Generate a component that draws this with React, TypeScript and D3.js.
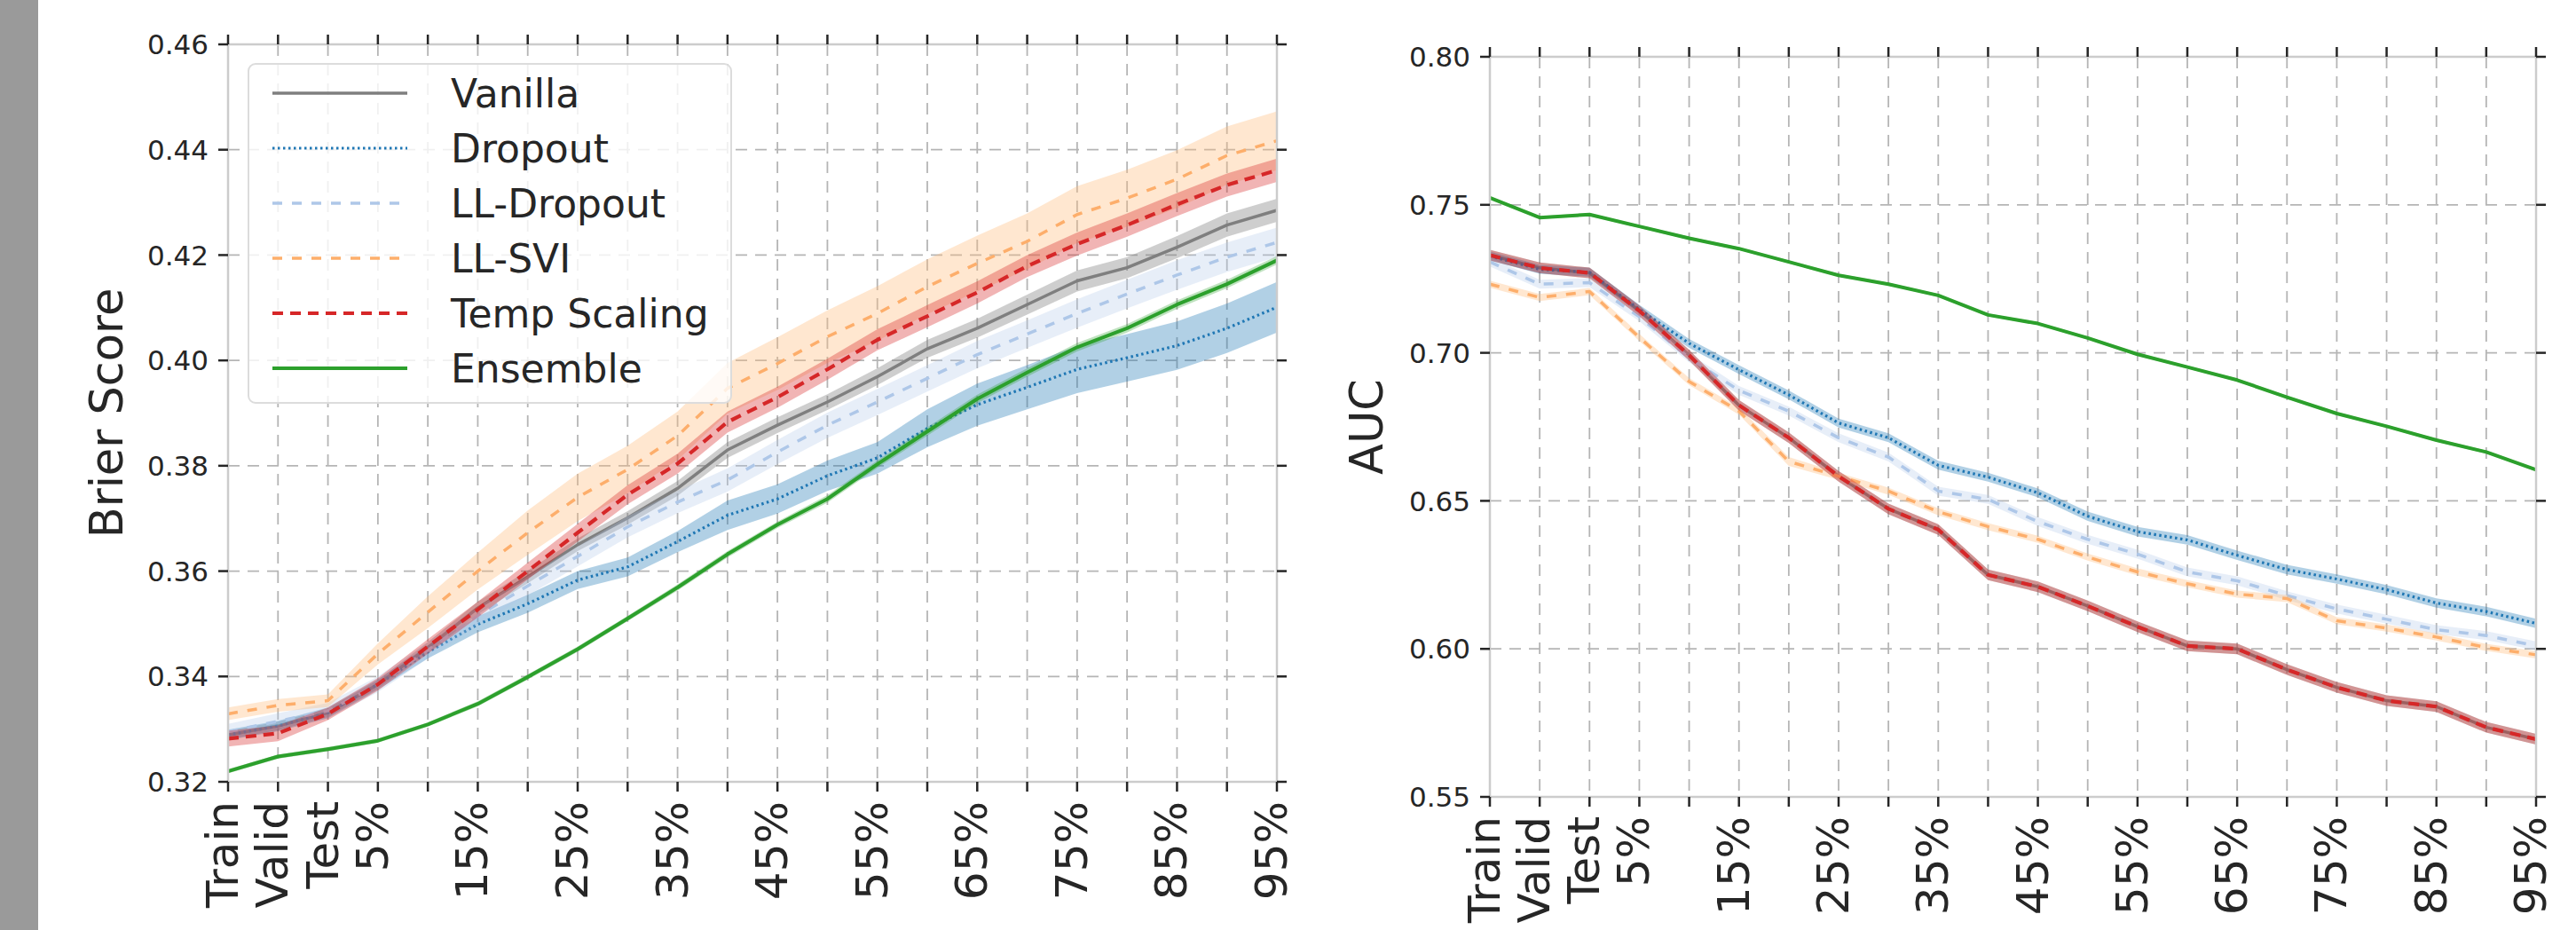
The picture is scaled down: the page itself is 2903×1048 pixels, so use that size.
import React from 'react';
import * as d3 from 'd3';

// x categories (shared by both panels)
const categories = ['Train', 'Valid', 'Test', '5%', '10%', '15%', '20%', '25%', '30%', '35%', '40%',
  '45%', '50%', '55%', '60%', '65%', '70%', '75%', '80%', '85%', '90%', '95%'];
const xTickLabels = ['Train', 'Valid', 'Test', '5%', '', '15%', '', '25%', '', '35%', '',
  '45%', '', '55%', '', '65%', '', '75%', '', '85%', '', '95%'];

const brierTicks = [0.32, 0.34, 0.36, 0.38, 0.40, 0.42, 0.44, 0.46];
const aucTicks = [0.55, 0.60, 0.65, 0.70, 0.75, 0.80];

// Brier score, means
const brierVanilla = [0.3289, 0.3306, 0.3331, 0.3385, 0.3455, 0.3530, 0.3589, 0.3650, 0.3701, 0.3757, 0.3830,
  0.3877, 0.3921, 0.3969, 0.4022, 0.4061, 0.4106, 0.4151, 0.4176, 0.4215, 0.4257, 0.4285];
const brierDropout = [0.3289, 0.3306, 0.3331, 0.3385, 0.3446, 0.3499, 0.3538, 0.3583, 0.3608, 0.3656, 0.3706,
  0.3737, 0.3781, 0.3815, 0.3871, 0.3916, 0.3949, 0.3983, 0.4005, 0.4028, 0.4061, 0.4101];
const brierLLDropout = [0.3295, 0.3315, 0.3335, 0.3385, 0.3450, 0.3515, 0.3572, 0.3628, 0.3684, 0.3731, 0.3773,
  0.3826, 0.3877, 0.3921, 0.3966, 0.4011, 0.4050, 0.4089, 0.4126, 0.4162, 0.4196, 0.4224];
const brierLLSVI = [0.3329, 0.3345, 0.3354, 0.3443, 0.3522, 0.3600, 0.3673, 0.3740, 0.3793, 0.3857, 0.3947,
  0.3994, 0.4045, 0.4089, 0.4140, 0.4184, 0.4226, 0.4277, 0.4308, 0.4344, 0.4389, 0.4417];
const brierTemp = [0.3282, 0.3292, 0.3329, 0.3385, 0.3457, 0.3527, 0.3600, 0.3673, 0.3745, 0.3804, 0.3883,
  0.3930, 0.3983, 0.4039, 0.4084, 0.4129, 0.4179, 0.4221, 0.4257, 0.4296, 0.4333, 0.4361];
const brierEnsemble = [0.3220, 0.3248, 0.3262, 0.3278, 0.3309, 0.3348, 0.3399, 0.3452, 0.3510, 0.3569, 0.3632,
  0.3688, 0.3737, 0.3803, 0.3865, 0.3927, 0.3977, 0.4025, 0.4061, 0.4106, 0.4145, 0.4190];

// Brier score, half widths of the shaded bands
const brierVanillaErr = [0.0008, 0.0008, 0.0008, 0.0008, 0.0010, 0.0012, 0.0012, 0.0012, 0.0013, 0.0014, 0.0015,
  0.0015, 0.0015, 0.0016, 0.0017, 0.0018, 0.0019, 0.0020, 0.0020, 0.0021, 0.0022, 0.0022];
const brierDropoutErr = [0.0010, 0.0010, 0.0010, 0.0010, 0.0012, 0.0015, 0.0017, 0.0017, 0.0018, 0.0020, 0.0028,
  0.0028, 0.0029, 0.0030, 0.0036, 0.0040, 0.0042, 0.0045, 0.0045, 0.0046, 0.0047, 0.0048];
const brierLLDropoutErr = [0.0015, 0.0015, 0.0015, 0.0015, 0.0016, 0.0017, 0.0018, 0.0019, 0.0020, 0.0021, 0.0022,
  0.0023, 0.0024, 0.0025, 0.0025, 0.0026, 0.0026, 0.0027, 0.0027, 0.0028, 0.0028, 0.0028];
const brierLLSVIErr = [0.0012, 0.0012, 0.0012, 0.0020, 0.0030, 0.0035, 0.0042, 0.0045, 0.0045, 0.0046, 0.0048,
  0.0050, 0.0050, 0.0052, 0.0052, 0.0053, 0.0053, 0.0054, 0.0054, 0.0055, 0.0055, 0.0056];
const brierTempErr = [0.0015, 0.0015, 0.0012, 0.0012, 0.0014, 0.0015, 0.0016, 0.0017, 0.0018, 0.0019, 0.0020,
  0.0020, 0.0020, 0.0020, 0.0021, 0.0021, 0.0021, 0.0022, 0.0022, 0.0022, 0.0022, 0.0022];
const brierEnsembleErr = [0.0004, 0.0004, 0.0004, 0.0004, 0.0004, 0.0005, 0.0005, 0.0005, 0.0005, 0.0006, 0.0006,
  0.0006, 0.0007, 0.0007, 0.0008, 0.0008, 0.0008, 0.0008, 0.0008, 0.0008, 0.0008, 0.0008];

// AUC, means
const aucVanilla = [0.7330, 0.7287, 0.7270, 0.7142, 0.6992, 0.6823, 0.6713, 0.6583, 0.6473, 0.6403, 0.6250,
  0.6210, 0.6145, 0.6075, 0.6010, 0.6000, 0.5930, 0.5870, 0.5825, 0.5805, 0.5735, 0.5695];
const aucDropout = [0.7327, 0.7282, 0.7272, 0.7147, 0.7032, 0.6943, 0.6858, 0.6763, 0.6713, 0.6620, 0.6580,
  0.6527, 0.6448, 0.6396, 0.6368, 0.6316, 0.6268, 0.6236, 0.6200, 0.6155, 0.6126, 0.6086];
const aucLLDropout = [0.7307, 0.7232, 0.7237, 0.7122, 0.6983, 0.6873, 0.6803, 0.6713, 0.6648, 0.6533, 0.6505,
  0.6430, 0.6370, 0.6320, 0.6260, 0.6230, 0.6180, 0.6135, 0.6100, 0.6065, 0.6045, 0.6010];
const aucLLSVI = [0.7232, 0.7187, 0.7207, 0.7052, 0.6903, 0.6803, 0.6633, 0.6583, 0.6533, 0.6463, 0.6413,
  0.6370, 0.6310, 0.6260, 0.6220, 0.6185, 0.6170, 0.6095, 0.6070, 0.6040, 0.6005, 0.5980];
const aucTemp = [0.7330, 0.7287, 0.7270, 0.7142, 0.6992, 0.6823, 0.6713, 0.6583, 0.6473, 0.6403, 0.6250,
  0.6210, 0.6145, 0.6075, 0.6010, 0.6000, 0.5930, 0.5870, 0.5825, 0.5805, 0.5735, 0.5695];
const aucEnsemble = [0.7524, 0.7457, 0.7467, 0.7427, 0.7387, 0.7352, 0.7307, 0.7262, 0.7232, 0.7194, 0.7128,
  0.7099, 0.7050, 0.6995, 0.6952, 0.6908, 0.6850, 0.6795, 0.6752, 0.6705, 0.6665, 0.6605];

// AUC band half widths
const aucVanillaErr = [0.0018, 0.0018, 0.0018, 0.0018, 0.0018, 0.0018, 0.0018, 0.0018, 0.0018, 0.0018, 0.0018,
  0.0018, 0.0018, 0.0018, 0.0018, 0.0018, 0.0018, 0.0018, 0.0018, 0.0018, 0.0018, 0.0018];
const aucDropoutErr = [0.0015, 0.0015, 0.0015, 0.0015, 0.0015, 0.0015, 0.0015, 0.0015, 0.0015, 0.0015, 0.0015,
  0.0015, 0.0016, 0.0016, 0.0016, 0.0016, 0.0016, 0.0016, 0.0016, 0.0016, 0.0016, 0.0016];
const aucLLDropoutErr = [0.0015, 0.0015, 0.0015, 0.0015, 0.0015, 0.0015, 0.0015, 0.0015, 0.0015, 0.0015, 0.0015,
  0.0015, 0.0015, 0.0015, 0.0015, 0.0015, 0.0015, 0.0015, 0.0015, 0.0015, 0.0015, 0.0015];
const aucLLSVIErr = [0.0012, 0.0012, 0.0012, 0.0012, 0.0012, 0.0012, 0.0015, 0.0012, 0.0012, 0.0012, 0.0012,
  0.0012, 0.0012, 0.0012, 0.0012, 0.0012, 0.0012, 0.0012, 0.0012, 0.0012, 0.0012, 0.0012];
const aucTempErr = aucVanillaErr;
const aucEnsembleErr = [0.0005, 0.0005, 0.0005, 0.0005, 0.0005, 0.0005, 0.0005, 0.0005, 0.0005, 0.0005, 0.0005,
  0.0005, 0.0005, 0.0005, 0.0005, 0.0005, 0.0005, 0.0005, 0.0005, 0.0005, 0.0005, 0.0005];

const methodNames = ['Vanilla', 'Dropout', 'LL-Dropout', 'LL-SVI', 'Temp Scaling', 'Ensemble'];

// line styles per method, same order as methodNames
const styles = [
  { color: '#7f7f7f', band: '#7f7f7f', bandOpacity: 0.38, width: 3.5, dash: null },
  { color: '#1f77b4', band: '#1f77b4', bandOpacity: 0.35, width: 3.2, dash: '2.5,3.5' },
  { color: '#aec7e8', band: '#aec7e8', bandOpacity: 0.3, width: 3.5, dash: '11,11' },
  { color: '#fdae6b', band: '#ffbb78', bandOpacity: 0.35, width: 3.5, dash: '11,11' },
  { color: '#d62728', band: '#d62728', bandOpacity: 0.35, width: 4.2, dash: '12,8' },
  { color: '#2ca02c', band: '#2ca02c', bandOpacity: 0.3, width: 4, dash: null },
];

const FONT = 'DejaVu Sans';
const INK = '#262626';

const Panel = ({ x0, x1, yTop, yBottom, domain, ticks, label, labelX, means, errs, legend }) => {
  const x = d3.scalePoint().domain(categories).range([x0, x1]);
  const y = d3.scaleLinear().domain(domain).range([yBottom, yTop]);

  const line = d3.line().x((d, i) => x(categories[i])).y(d => y(d));

  return (
    <g>
      {/* grid */}
      {categories.map(c => (
        <line key={'gx' + c} x1={x(c)} x2={x(c)} y1={yTop} y2={yBottom}
          stroke="#b5b5b5" strokeWidth={1.8} strokeDasharray="13,9" />
      ))}
      {ticks.map(t => (
        <line key={'gy' + t} x1={x0} x2={x1} y1={y(t)} y2={y(t)}
          stroke="#b5b5b5" strokeWidth={1.8} strokeDasharray="13,9" />
      ))}

      {/* series: band then line */}
      {means.map((m, k) => {
        const e = errs[k];
        const area = d3.area()
          .x((d, i) => x(categories[i]))
          .y0((d, i) => y(d - e[i]))
          .y1((d, i) => y(d + e[i]));
        const s = styles[k];
        return (
          <g key={'s' + k}>
            <path d={area(m)} fill={s.band} fillOpacity={s.bandOpacity} stroke="none" />
            <path d={line(m)} fill="none" stroke={s.color} strokeWidth={s.width}
              strokeDasharray={s.dash || undefined} strokeLinejoin="round" />
          </g>
        );
      })}

      {/* spines */}
      <rect x={x0} y={yTop} width={x1 - x0} height={yBottom - yTop} fill="none" stroke="#cccccc" strokeWidth={2.5} />

      {/* tick marks on all four sides */}
      {categories.map(c => (
        <g key={'tx' + c}>
          <line x1={x(c)} x2={x(c)} y1={yBottom} y2={yBottom + 11} stroke={INK} strokeWidth={2.5} />
          <line x1={x(c)} x2={x(c)} y1={yTop - 11} y2={yTop} stroke={INK} strokeWidth={2.5} />
        </g>
      ))}
      {ticks.map(t => (
        <g key={'ty' + t}>
          <line x1={x0 - 11} x2={x0} y1={y(t)} y2={y(t)} stroke={INK} strokeWidth={2.5} />
          <line x1={x1} x2={x1 + 11} y1={y(t)} y2={y(t)} stroke={INK} strokeWidth={2.5} />
        </g>
      ))}

      {/* y tick labels */}
      {ticks.map(t => (
        <text key={'yl' + t} x={x0 - 22} y={y(t)} dy="0.36em" textAnchor="end"
          fontFamily={FONT} fontSize={31} fill={INK}>{d3.format('.2f')(t)}</text>
      ))}

      {/* x tick labels, rotated */}
      {categories.map((c, i) => (
        xTickLabels[i] ? (
          <text key={'xl' + c} transform={`translate(${x(c)},${yBottom + 22}) rotate(-90)`}
            dy="0.22em" textAnchor="end" fontFamily={FONT} fontSize={50} fill={INK}>{xTickLabels[i]}</text>
        ) : null
      ))}

      {/* axis label */}
      <text transform={`translate(${labelX},${(yTop + yBottom) / 2}) rotate(-90)`} textAnchor="middle"
        fontFamily={FONT} fontSize={51} fill={INK}>{label}</text>

      {legend ? <Legend /> : null}
    </g>
  );
};

const Legend = () => {
  const left = 280, top = 72, w = 544, h = 382;
  const rowY = d3.scaleLinear().domain([0, methodNames.length - 1]).range([105, 415]);
  return (
    <g>
      <rect x={left} y={top} width={w} height={h} rx={8} fill="#ffffff" fillOpacity={0.8}
        stroke="#dcdcdc" strokeWidth={2} />
      {methodNames.map((n, k) => {
        const s = styles[k];
        const yy = rowY(k);
        return (
          <g key={'lg' + n}>
            <line x1={307} x2={459} y1={yy} y2={yy} stroke={s.color} strokeWidth={s.width}
              strokeDasharray={s.dash || undefined} />
            <text x={508} y={yy + 16} fontFamily={FONT} fontSize={44} fill={INK}>{n}</text>
          </g>
        );
      })}
    </g>
  );
};

export default function App() {
  return (
    <svg width={2903} height={1048} style={{ position: 'absolute', left: 0, top: 0, background: '#fff' }}>
      <rect x={0} y={0} width={2903} height={1048} fill="#ffffff" />
      <rect x={0} y={0} width={43} height={1048} fill="#9a9a9a" />
      <Panel x0={257} x1={1439} yTop={50} yBottom={881} domain={[0.32, 0.46]} ticks={brierTicks}
        label="Brier Score" labelX={138}
        means={[brierVanilla, brierDropout, brierLLDropout, brierLLSVI, brierTemp, brierEnsemble]}
        errs={[brierVanillaErr, brierDropoutErr, brierLLDropoutErr, brierLLSVIErr, brierTempErr, brierEnsembleErr]}
        legend={true} />
      <Panel x0={1679} x1={2858} yTop={64} yBottom={898} domain={[0.55, 0.80]} ticks={aucTicks}
        label="AUC" labelX={1558}
        means={[aucVanilla, aucDropout, aucLLDropout, aucLLSVI, aucTemp, aucEnsemble]}
        errs={[aucVanillaErr, aucDropoutErr, aucLLDropoutErr, aucLLSVIErr, aucTempErr, aucEnsembleErr]}
        legend={false} />
    </svg>
  );
}
